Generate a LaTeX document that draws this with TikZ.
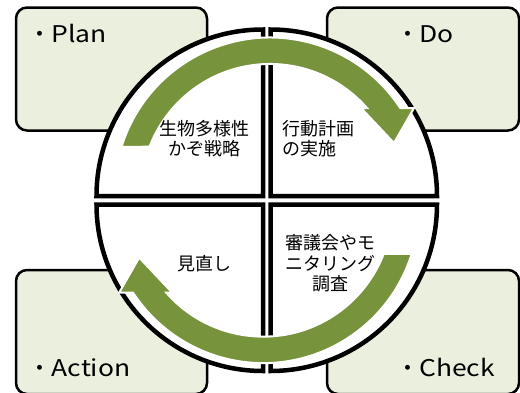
\documentclass[tikz,border=0pt]{standalone}
\usepackage{fontspec}
\setmainfont{Noto Sans CJK JP}
\newfontfamily\lblfont[FakeStretch=1.15]{Noto Sans CJK JP}
\definecolor{boxfill}{HTML}{EBF0DE}
\definecolor{arrowgreen}{HTML}{77933C}
\begin{document}
\begin{tikzpicture}[x=1pt,y=-1pt,
  pdcabox/.style={draw=black,line width=2.5pt,fill=boxfill,rounded corners=11pt},
  sector/.style={draw=black,line width=4.5pt,fill=white,line join=miter},
  cyclearrow/.style={fill=arrowgreen,draw=white,line width=2pt,line join=miter},
  lbl/.style={inner sep=0pt,font=\fontsize{23}{26}\selectfont},
  jp/.style={inner sep=0pt,font=\fontsize{18}{20.5}\selectfont}]
\useasboundingbox (0,0) rectangle (520,392);
% PDCA boxes
\path[pdcabox] (16,7.5) rectangle (207,130.5);
\path[pdcabox] (327,7.5) rectangle (519,130.5);
\path[pdcabox] (16,270) rectangle (207,394);
\path[pdcabox] (327,270) rectangle (519,394);
% four sectors of the circle
\path[sector] (263,196) -- ++(-166.5,0) arc[start angle=180,end angle=270,radius=166.5] -- cycle;
\path[sector] (270.5,196) -- ++(0,-166.5) arc[start angle=270,end angle=360,radius=166.5] -- cycle;
\path[sector] (270.5,204.5) -- ++(166.5,0) arc[start angle=0,end angle=90,radius=166.5] -- cycle;
\path[sector] (263,204.5) -- ++(0,166.5) arc[start angle=90,end angle=180,radius=166.5] -- cycle;
% circular arrows
\begin{scope}[shift={(270,193)}]
\path[cyclearrow] (197.3:155.5) arc[start angle=197.3,end angle=326.9,radius=155.5]
  -- (144,-85) -- (124,-50) -- (91,-85) -- (97,-85)
  arc[start angle=318.8,end angle=201.0,radius=129] -- cycle;
\end{scope}
\begin{scope}[rotate around={180:(266.6,200.3)}]
\begin{scope}[shift={(270,193)}]
\path[cyclearrow] (197.3:155.5) arc[start angle=197.3,end angle=326.9,radius=155.5]
  -- (144,-85) -- (124,-50) -- (91,-85) -- (97,-85)
  arc[start angle=318.8,end angle=201.0,radius=129] -- cycle;
\end{scope}
\end{scope}
% labels
\node[lbl,anchor=base west] (plan) at (28.5,42) {・\lblfont Plan};
\node[lbl,anchor=base west] (do) at (396,42) {・\lblfont Do};
\node[lbl,anchor=base west] (action) at (28.5,376) {・\lblfont Action};
\node[lbl,anchor=base west] (check) at (396,376) {・\lblfont Check};
\node[jp,align=center] (plantext) at (204,138.5) {生物多様性\\かぞ戦略};
\node[jp,align=left,anchor=west] (dotext) at (282,138.5) {行動計画\\の実施};
\node[jp] (actiontext) at (204.5,264) {見直し};
\node[jp,align=center] (checktext) at (330,263.5) {審議会やモ\\ニタリング\\調査};
\end{tikzpicture}
\end{document}
